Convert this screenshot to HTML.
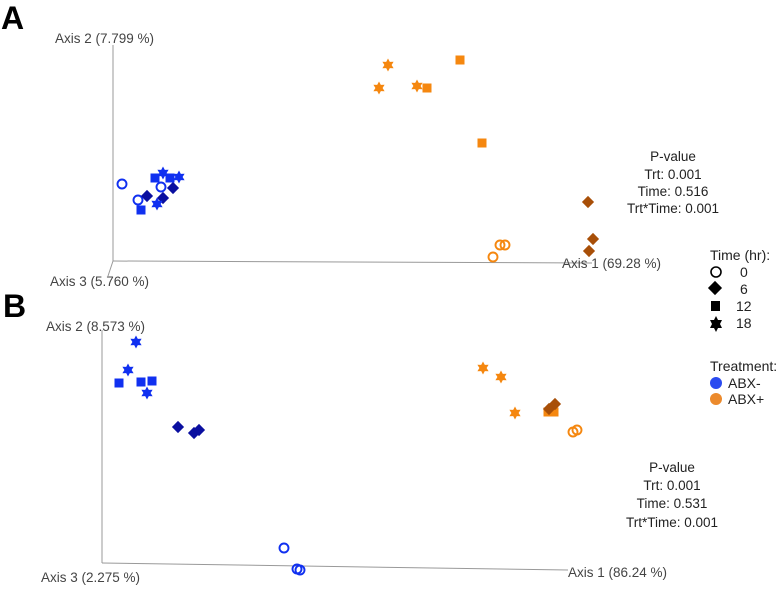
<!DOCTYPE html>
<html><head><meta charset="utf-8"><style>
html,body{margin:0;padding:0;background:#fff;}
svg{display:block;font-family:"Liberation Sans",sans-serif;}
</style></head><body>
<svg id="chart" width="778" height="589" viewBox="0 0 778 589" xmlns="http://www.w3.org/2000/svg">
<text x="1" y="29" font-size="32" font-weight="bold">A</text>
<text x="3" y="317" font-size="32" font-weight="bold">B</text>
<g id="panelA">
<line x1="113" y1="45" x2="113" y2="261" stroke="#999"/>
<line x1="113" y1="261" x2="592" y2="263" stroke="#999"/>
<line x1="113" y1="261" x2="108" y2="276" stroke="#999"/>
<text x="55" y="43" font-size="13.5" fill="#444">Axis 2 (7.799 %)</text>
<text x="50" y="286" font-size="13.5" fill="#444">Axis 3 (5.760 %)</text>
<text x="562" y="268" font-size="13.5" fill="#444">Axis 1 (69.28 %)</text>
<g font-size="13.5" fill="#222" text-anchor="middle">
<text x="673" y="161">P-value</text><text x="673" y="179">Trt: 0.001</text><text x="673" y="196">Time: 0.516</text><text x="673" y="213">Trt*Time: 0.001</text></g>
</g>
<g id="panelB">
<line x1="102" y1="330" x2="102" y2="563" stroke="#999"/>
<line x1="102" y1="563" x2="568" y2="570" stroke="#999"/>
<text x="46" y="331" font-size="13.5" fill="#444">Axis 2 (8.573 %)</text>
<text x="41" y="582" font-size="13.5" fill="#444">Axis 3 (2.275 %)</text>
<text x="568" y="577" font-size="13.5" fill="#444">Axis 1 (86.24 %)</text>
<g font-size="13.5" fill="#222" text-anchor="middle">
<text x="672" y="472">P-value</text><text x="672" y="490">Trt: 0.001</text><text x="672" y="508">Time: 0.531</text><text x="672" y="527">Trt*Time: 0.001</text></g>
</g>
<g font-size="14" fill="#222">
<text x="710" y="260">Time (hr):</text>
<circle cx="716" cy="272" r="5" fill="none" stroke="#000" stroke-width="1.6"/><text x="740" y="277">0</text>
<rect x="710" y="283" width="10" height="10" transform="rotate(45 715 288)" fill="#000"/><text x="740" y="294">6</text>
<rect x="711" y="301" width="9" height="10" fill="#000"/><text x="736" y="311">12</text>
<polygon points="716,316 718,320 722,320 720,324 722,328 718,328 716,332 714,328 710,328 712,324 710,320 714,320" fill="#000"/><text x="736" y="328">18</text>
<text x="710" y="371">Treatment:</text>
<circle cx="716" cy="383" r="6" fill="#2a4bf0"/><text x="728" y="388">ABX-</text>
<circle cx="716" cy="399" r="6" fill="#ec8a2c"/><text x="728" y="404">ABX+</text>
</g>
</svg>
<script>
// Panel A scores (x = axis 1, y = axis 2)
const aBlueT0x=[9,25,48], aBlueT0y=[76,60,73];
const aBlueT6x=[34,50,60], aBlueT6y=[64,62,72];
const aBlueT12x=[42,28,57], aBlueT12y=[82,50,82];
const aBlueT18x=[50,66,44], aBlueT18y=[87,83,56];
const aOrT0x=[380,387,392], aOrT0y=[3,15,15];
const aOrT6x=[475,480,476], aOrT6y=[58,21,9];
const aOrT12x=[347,314,369], aOrT12y=[200,172,117];
const aOrT18x=[275,266,304], aOrT18y=[195,172,174];
// Panel B scores
const bBlueT0x=[182,195,198], bBlueT0y=[15,-6,-7];
const bBlueT6x=[76,92,97], bBlueT6y=[136,130,133];
const bBlueT12x=[17,39,50], bBlueT12y=[180,181,182];
const bBlueT18x=[34,26,45], bBlueT18y=[221,193,170];
const bOrT0x=[471,475], bOrT0y=[131,133];
const bOrT12x=[446,452], bOrT12y=[151,151];
const bOrT6x=[447,453], bOrT6y=[154,159];
const bOrT18x=[381,399,413], bOrT18y=[195,186,150];

const NS="http://www.w3.org/2000/svg";
const svg=document.getElementById('chart');
function xA(v){return 113+v;} function yA(v){return 260-v;}
function xB(v){return 102+v;} function yB(v){return 563-v;}
const BLUE="#1030f0", NAVY="#0a0fa0", ORANGE="#f5870f", BROWN="#a84f08";
function starPts(cx,cy,r){
  const p=[];
  for(let k=0;k<12;k++){const ang=-Math.PI/2+k*Math.PI/6;const rr=(k%2===0)?r:r*0.55;p.push((cx+rr*Math.cos(ang)).toFixed(1)+','+(cy+rr*Math.sin(ang)).toFixed(1));}
  return p.join(' ');
}
function mark(shape,cx,cy,color,name){
  let el;
  if(shape==='circle'){el=document.createElementNS(NS,'circle');el.setAttribute('cx',cx);el.setAttribute('cy',cy);el.setAttribute('r',4.5);el.setAttribute('fill','none');el.setAttribute('stroke',color);el.setAttribute('stroke-width',1.9);}
  else if(shape==='diamond'){el=document.createElementNS(NS,'rect');el.setAttribute('x',cx-4.3);el.setAttribute('y',cy-4.3);el.setAttribute('width',8.6);el.setAttribute('height',8.6);el.setAttribute('fill',color);el.setAttribute('transform','rotate(45 '+cx+' '+cy+')');}
  else if(shape==='square'){el=document.createElementNS(NS,'rect');el.setAttribute('x',cx-4.5);el.setAttribute('y',cy-4.5);el.setAttribute('width',9);el.setAttribute('height',9);el.setAttribute('fill',color);}
  else {el=document.createElementNS(NS,'polygon');el.setAttribute('points',starPts(cx,cy,6.5));el.setAttribute('fill',color);}
  
  
  svg.appendChild(el);
}
function series(xs,ys,fx,fy,shape,color,name){for(let i=0;i<xs.length;i++)mark(shape,fx(xs[i]),fy(ys[i]),color,name);}
series(aBlueT0x,aBlueT0y,xA,yA,'circle',BLUE,'point-a-abxminus-0h');
series(aBlueT6x,aBlueT6y,xA,yA,'diamond',NAVY,'point-a-abxminus-6h');
series(aBlueT12x,aBlueT12y,xA,yA,'square',BLUE,'point-a-abxminus-12h');
series(aBlueT18x,aBlueT18y,xA,yA,'star',BLUE,'point-a-abxminus-18h');
series(aOrT0x,aOrT0y,xA,yA,'circle',ORANGE,'point-a-abxplus-0h');
series(aOrT6x,aOrT6y,xA,yA,'diamond',BROWN,'point-a-abxplus-6h');
series(aOrT12x,aOrT12y,xA,yA,'square',ORANGE,'point-a-abxplus-12h');
series(aOrT18x,aOrT18y,xA,yA,'star',ORANGE,'point-a-abxplus-18h');
series(bBlueT0x,bBlueT0y,xB,yB,'circle',BLUE,'point-b-abxminus-0h');
series(bBlueT6x,bBlueT6y,xB,yB,'diamond',NAVY,'point-b-abxminus-6h');
series(bBlueT12x,bBlueT12y,xB,yB,'square',BLUE,'point-b-abxminus-12h');
series(bBlueT18x,bBlueT18y,xB,yB,'star',BLUE,'point-b-abxminus-18h');
series(bOrT0x,bOrT0y,xB,yB,'circle',ORANGE,'point-b-abxplus-0h');
series(bOrT12x,bOrT12y,xB,yB,'square',ORANGE,'point-b-abxplus-12h');
series(bOrT6x,bOrT6y,xB,yB,'diamond',BROWN,'point-b-abxplus-6h');
series(bOrT18x,bOrT18y,xB,yB,'star',ORANGE,'point-b-abxplus-18h');
</script>
</body></html>
